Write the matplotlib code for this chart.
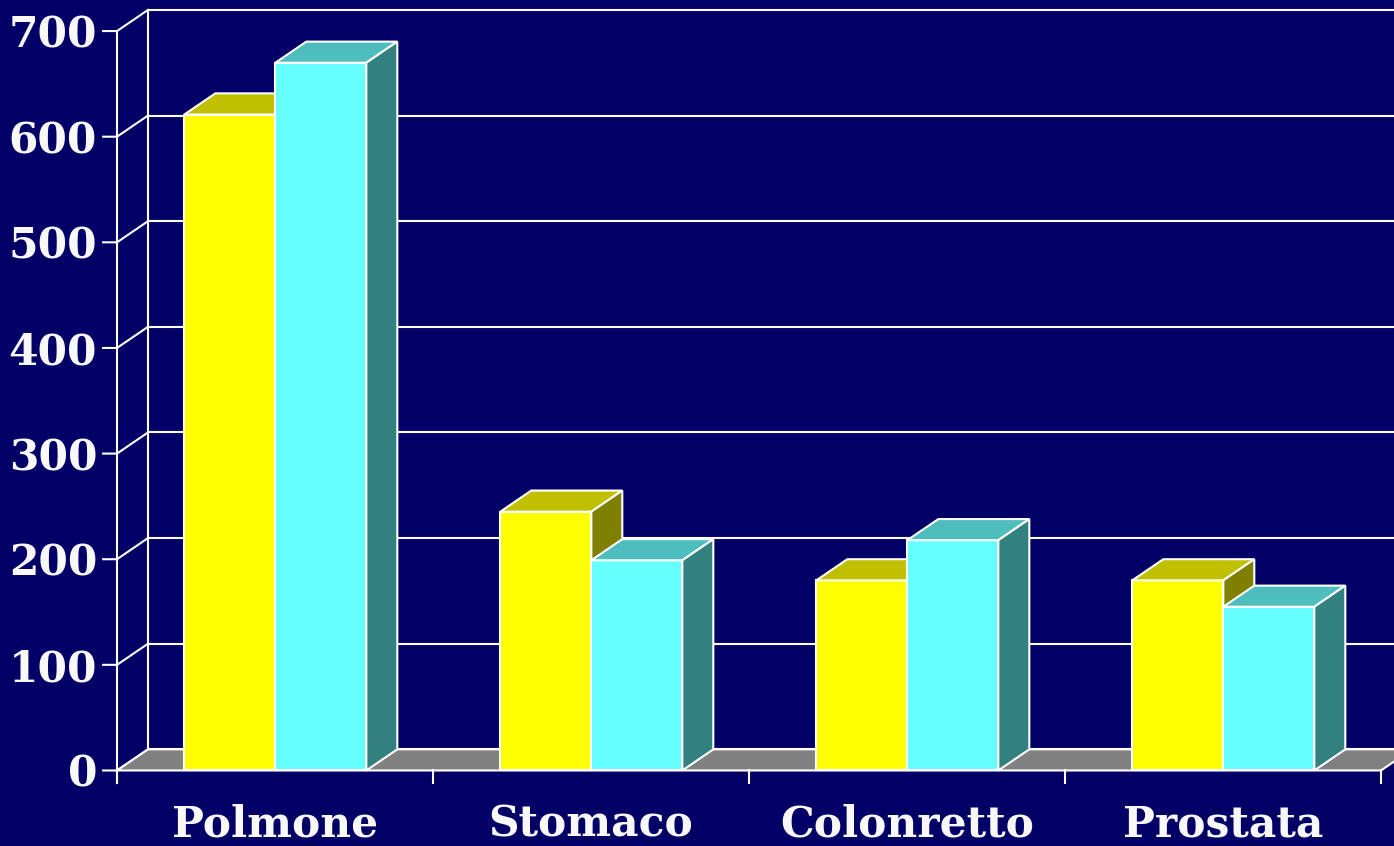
import matplotlib
matplotlib.use("Agg")
import matplotlib.pyplot as plt
from matplotlib.patches import Polygon

categories = ["Polmone", "Stomaco", "Colonretto", "Prostata"]
series_yellow = [621, 245, 180, 180]
series_cyan = [670, 199, 218, 155]
yticks = [0, 100, 200, 300, 400, 500, 600, 700]

BG = "#020066"
WHITE = "#FFFFFF"
TXT = "#F8F8F8"
YEL = ("#FFFF00", "#C0C000", "#808000")
CYA = ("#66FFFF", "#4DBDBD", "#338080")
GRAY = "#808080"

DX = 0.098   # depth offset in category units
DY = 20.0    # depth offset in value units
BW = 0.288
OFF = 0.213
LW = 1.5

fig = plt.figure(figsize=(13.94, 8.46), dpi=100)
fig.patch.set_facecolor(BG)
ax = fig.add_axes([0, 0, 1, 1])
ax.set_facecolor(BG)
ax.set_xlim(-0.3703, 4.0411)
ax.set_ylim(-71.5, 729.4)
ax.axis("off")

n = len(categories)
ymax = yticks[-1]

# back wall gridlines
for v in yticks:
    ax.plot([DX, n + DX + 1], [v + DY, v + DY], color=WHITE, lw=LW, zorder=1, solid_capstyle="butt")
ax.plot([DX, DX], [DY, ymax + DY], color=WHITE, lw=LW, zorder=1)

# front-left axis with ticks
ax.plot([0, 0], [-12.3, ymax], color=WHITE, lw=LW, zorder=1)
for v in yticks:
    ax.plot([-0.044, 0, DX], [v, v, v + DY], color=WHITE, lw=LW, zorder=1)
    ax.text(-0.063, v - 15.6, str(v), ha="right", va="baseline", color=TXT,
            fontsize=30.5, fontweight="bold", family="DejaVu Serif", zorder=5)

# floor
floor = Polygon([(0, 0), (n, 0), (n + DX, DY), (DX, DY)], closed=True,
                facecolor=GRAY, edgecolor=WHITE, lw=LW, zorder=2)
ax.add_patch(floor)
for i in range(n + 1):
    ax.plot([i, i], [0, -12.3], color=WHITE, lw=LW, zorder=2)


def bar3d(x0, w, h, cols, z):
    front, top, side = cols
    ax.add_patch(Polygon([(x0, 0), (x0 + w, 0), (x0 + w, h), (x0, h)], closed=True,
                         facecolor=front, edgecolor=WHITE, lw=LW, zorder=z, joinstyle="miter"))
    ax.add_patch(Polygon([(x0, h), (x0 + w, h), (x0 + w + DX, h + DY), (x0 + DX, h + DY)], closed=True,
                         facecolor=top, edgecolor=WHITE, lw=LW, zorder=z, joinstyle="miter"))
    ax.add_patch(Polygon([(x0 + w, 0), (x0 + w + DX, DY), (x0 + w + DX, h + DY), (x0 + w, h)], closed=True,
                         facecolor=side, edgecolor=WHITE, lw=LW, zorder=z, joinstyle="miter"))


for i, cat in enumerate(categories):
    bar3d(i + OFF, BW, series_yellow[i], YEL, 3 + i * 2)
    bar3d(i + OFF + BW, BW, series_cyan[i], CYA, 4 + i * 2)
    ax.text(i + 0.5, -62.5, cat, ha="center", va="baseline", color=TXT,
            fontsize=30.5, fontweight="bold", family="DejaVu Serif", zorder=5)

fig.savefig("out.png", dpi=100, facecolor=BG)
